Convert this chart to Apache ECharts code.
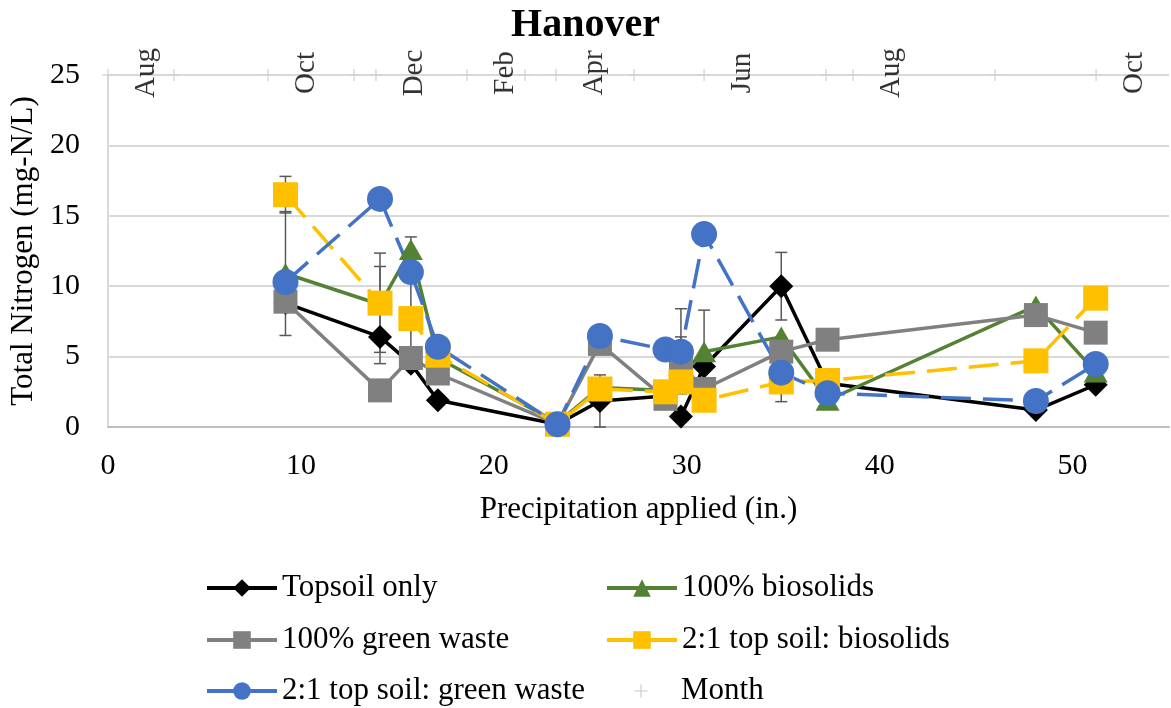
<!DOCTYPE html>
<html><head><meta charset="utf-8">
<script src="https://cdn.jsdelivr.net/npm/echarts@6/dist/echarts.min.js"></script>
<style>html,body{margin:0;padding:0;background:#fff}#c{width:1171px;height:708px}</style>
</head><body><div id="c"></div>
<script>
// ---- data ----
const xShared = [9.2, 14.1, 15.7, 17.1, 23.3, 25.5, 28.9, 29.7, 30.9, 34.9, 37.3, 48.1, 51.2];
const topsoilY     = [8.8, 6.4, 4.5, 1.9, 0.2, 1.85, 2.2, 0.75, 4.3, 10.0, 3.1, 1.2, 3.0];
const biosolidsX   = [9.2, 14.1, 15.7, 17.1, 23.3, 25.5, 28.9, 30.9, 34.9, 37.3, 48.1, 51.2];
const biosolidsY   = [10.9, 8.7, 12.6, 4.9, 0.3, 2.8, 2.6, 5.35, 6.4, 1.9, 8.6, 3.9];
const greenWasteY  = [8.9, 2.6, 4.9, 3.8, 0.2, 5.9, 2.0, 4.4, 2.7, 5.35, 6.2, 7.95, 6.7];
const tsBiosolidsY = [16.5, 8.8, 7.7, 5.1, 0.2, 2.7, 2.5, 3.2, 1.9, 3.2, 3.3, 4.7, 9.15];
const tsGreenY     = [10.3, 16.2, 11.0, 5.7, 0.2, 6.46, 5.5, 5.35, 13.7, 3.86, 2.4, 1.85, 4.47];

const errX    = [9.2, 9.2, 14.1, 14.1, 15.7, 25.5, 29.7, 29.7, 30.9, 34.9, 34.9];
const errLow  = [15.2, 6.5, 5.3, 4.5, 4.6, 0.0, 2.35, 2.6, 2.4, 7.6, 1.8];
const errHigh = [17.8, 15.3, 12.35, 11.4, 13.5, 3.7, 8.4, 6.4, 8.3, 12.4, 4.6];

const monthX      = [0, 3.42, 8.29, 12.75, 13.89, 18.61, 21.62, 23.22, 27.27, 30.9, 37.22, 38.62, 45.98, 51.22];
const monthY      = [25, 25, 25, 25, 25, 25, 25, 25, 25, 25, 25, 25, 25, 25];
const monthLabels = ['Aug', '', 'Oct', '', 'Dec', 'Feb', '', 'Apr', '', 'Jun', '', 'Aug', '', 'Oct'];

const yTicks = [0, 5, 10, 15, 20, 25];

// ---- chart ----
const FONT = "'Liberation Serif', 'Times New Roman', serif";
const pair = (xs, ys) => xs.map((x, i) => [x, ys[i]]);
const PLUS = 'path://M0,0 M20,20 M4,9.25 H16 V10.75 H4 Z M9.25,4 H10.75 V16 H9.25 Z';

function lineSeries(name, data, color, symbol, size, dashed) {
  return {
    name, type: 'line', data, symbol, symbolSize: size,
    lineStyle: { color, width: 3.5, type: dashed ? [30, 12] : 'solid' },
    itemStyle: { color, borderWidth: 0 },
    emphasis: { disabled: true }
  };
}

function legendItem(item, left, top) {
  return {
    orient: 'horizontal', left, top, itemWidth: 70, itemHeight: 22, itemGap: 0,
    lineStyle: { width: 4, type: 'solid' },
    textStyle: { fontFamily: FONT, fontSize: 31, color: '#000', lineHeight: 32 },
    data: [item]
  };
}

const chart = echarts.init(document.getElementById('c'), null, { renderer: 'canvas' });
chart.setOption({
  animation: false,
  backgroundColor: '#ffffff',
  title: {
    text: 'Hanover', left: 'center', top: 1,
    textStyle: { fontFamily: FONT, fontWeight: 'bold', fontSize: 40, color: '#000' }
  },
  grid: { left: 108, right: 2, top: 75, bottom: 281, containLabel: false },
  legend: [
    legendItem('Topsoil only', 200, 567),
    legendItem('100% biosolids', 600, 567),
    legendItem('100% green waste', 200, 619),
    legendItem('2:1 top soil: biosolids', 600, 619),
    legendItem('2:1 top soil: green waste', 200, 670),
    legendItem({ name: 'Month', icon: PLUS }, 625, 670)
  ],
  xAxis: {
    type: 'value', min: 0, max: 55, interval: 10,
    name: 'Precipitation applied (in.)', nameLocation: 'middle', nameGap: 67,
    nameTextStyle: { fontFamily: FONT, fontSize: 31, color: '#000' },
    axisLine: { show: true, lineStyle: { color: '#BFBFBF', width: 2 } },
    axisTick: { show: false },
    axisLabel: { fontFamily: FONT, fontSize: 30, color: '#000', margin: 24, showMaxLabel: false },
    splitLine: { show: false }
  },
  yAxis: {
    type: 'value', min: yTicks[0], max: yTicks[yTicks.length - 1], interval: 5,
    name: 'Total Nitrogen (mg-N/L)', nameLocation: 'middle', nameGap: 67,
    nameTextStyle: { fontFamily: FONT, fontSize: 31, color: '#000' },
    axisLine: { show: true, lineStyle: { color: '#D9D9D9', width: 2 } },
    axisTick: { show: false },
    axisLabel: { fontFamily: FONT, fontSize: 30, color: '#000', margin: 28 },
    splitLine: { show: true, lineStyle: { color: '#D9D9D9', width: 2 } }
  },
  series: [
    {
      type: 'custom', name: 'errorbars', z: 1, silent: true,
      data: errX.map((x, i) => [x, errLow[i], errHigh[i]]),
      encode: { x: 0, y: [1, 2] },
      renderItem: function (params, api) {
        const x = api.value(0), lo = api.value(1), hi = api.value(2);
        const p1 = api.coord([x, hi]), p2 = api.coord([x, lo]);
        const w = 6;
        const style = { stroke: '#595959', lineWidth: 1.5 };
        return { type: 'group', children: [
          { type: 'line', shape: { x1: p1[0], y1: p1[1], x2: p2[0], y2: p2[1] }, style },
          { type: 'line', shape: { x1: p1[0] - w, y1: p1[1], x2: p1[0] + w, y2: p1[1] }, style },
          { type: 'line', shape: { x1: p2[0] - w, y1: p2[1], x2: p2[0] + w, y2: p2[1] }, style }
        ] };
      }
    },
    lineSeries('Topsoil only', pair(xShared, topsoilY), '#000000', 'diamond', 24, false),
    lineSeries('100% biosolids', pair(biosolidsX, biosolidsY), '#548235', 'triangle', [24, 21], false),
    lineSeries('100% green waste', pair(xShared, greenWasteY), '#808080', 'rect', 24, false),
    lineSeries('2:1 top soil: biosolids', pair(xShared, tsBiosolidsY), '#FFC000', 'rect', 25, true),
    lineSeries('2:1 top soil: green waste', pair(xShared, tsGreenY), '#4472C4', 'circle', 26, true),
    {
      name: 'Month', type: 'scatter', data: pair(monthX, monthY), clip: false,
      symbol: PLUS, symbolSize: 20,
      itemStyle: { color: '#D0D0D0' },
      emphasis: { disabled: true },
      label: {
        show: true, position: 'inside', rotate: 90, offset: [2, 38],
        fontFamily: FONT, fontSize: 29, color: '#000',
        formatter: p => monthLabels[p.dataIndex]
      }
    }
  ]
});
</script>
</body></html>
